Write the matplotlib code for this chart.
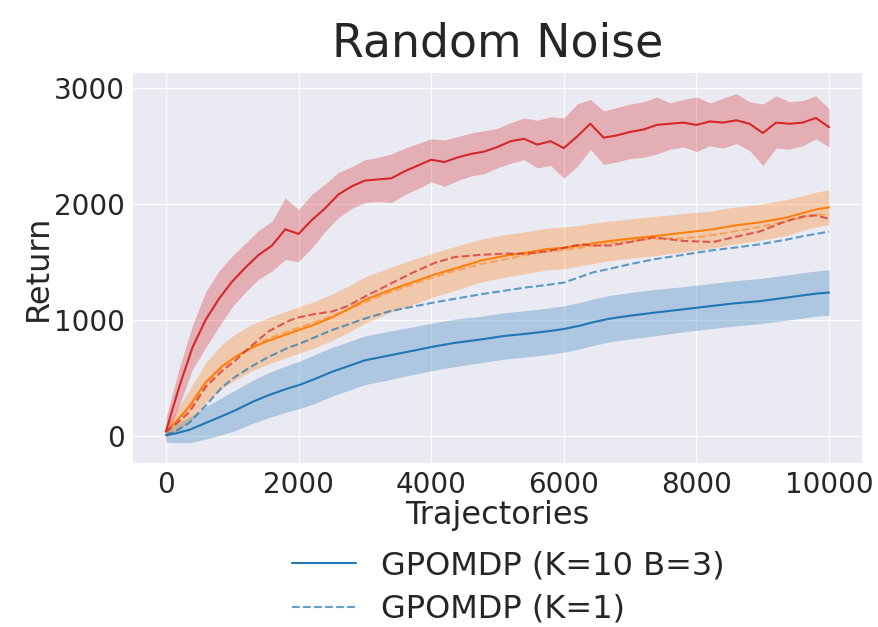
import matplotlib
matplotlib.use('Agg')
import matplotlib.pyplot as plt
import numpy as np

# Trajectories (x grid)
traj = [0, 150, 350, 600, 850, 1050, 1300, 1550, 1850, 2000, 2250, 2500, 2750, 3000,
        3350, 3700, 4050, 4350, 4750, 5100, 5450, 5750, 6000, 6250, 6450, 6700,
        7000, 7350, 7800, 8250, 8550, 8950, 9350, 9600, 9800, 10000]

# GPOMDP (K=10 B=3) - blue solid
blue_mean = [5, 20, 50, 110, 170, 220, 290, 350, 410, 435, 490, 550, 600, 650,
             690, 730, 770, 800, 830, 860, 880, 900, 920, 950, 980, 1010,
             1035, 1060, 1090, 1120, 1140, 1160, 1190, 1210, 1225, 1235]
blue_std = [60, 80, 110, 140, 160, 175, 185, 195, 200, 205, 210, 210, 210, 210,
            210, 205, 205, 205, 200, 200, 200, 200, 200, 200, 200, 200,
            200, 200, 195, 195, 195, 195, 195, 195, 195, 195]

# GPOMDP (K=1) - blue dashed
blue_k1 = [5, 40, 110, 260, 420, 510, 600, 680, 760, 790, 850, 910, 960, 1010,
           1070, 1110, 1150, 1180, 1220, 1250, 1280, 1300, 1320, 1370, 1410, 1440,
           1480, 1520, 1560, 1600, 1620, 1650, 1690, 1720, 1740, 1760]

# orange solid + band
orange_mean = [35, 120, 250, 460, 600, 680, 760, 820, 880, 910, 960, 1020, 1090, 1170,
               1250, 1320, 1390, 1440, 1510, 1550, 1580, 1610, 1620, 1640, 1660, 1680,
               1700, 1720, 1750, 1780, 1810, 1840, 1880, 1920, 1950, 1970]
orange_std = [40, 90, 140, 170, 190, 200, 200, 200, 200, 200, 200, 200, 200, 200,
              195, 195, 190, 190, 185, 185, 180, 180, 180, 175, 175, 170,
              170, 170, 165, 160, 160, 155, 155, 150, 150, 150]

# orange dashed
orange_k1 = [35, 110, 230, 440, 590, 680, 770, 840, 900, 930, 980, 1030, 1090, 1150,
             1230, 1300, 1370, 1420, 1480, 1520, 1560, 1590, 1600, 1620, 1640, 1660,
             1680, 1700, 1700, 1730, 1760, 1800, 1850, 1880, 1910, 1900]

# red dashed
red_k1 = [35, 100, 200, 420, 560, 650, 780, 900, 990, 1020, 1050, 1070, 1120, 1200,
          1300, 1400, 1490, 1540, 1560, 1570, 1570, 1590, 1620, 1650, 1640, 1640,
          1670, 1710, 1680, 1670, 1710, 1760, 1850, 1890, 1900, 1870]

# red solid + band (noisier, denser grid)
traj_red = [0, 200, 400, 600, 800, 1000, 1200, 1400, 1600, 1800, 2000, 2200, 2400,
            2600, 2800, 3000, 3200, 3400, 3600, 3800, 4000, 4200, 4400, 4600, 4800,
            5000, 5200, 5400, 5600, 5800, 6000, 6200, 6400, 6600, 6800, 7000, 7200,
            7400, 7600, 7800, 8000, 8200, 8400, 8600, 8800, 9000, 9200, 9400, 9600,
            9800, 10000]
red_mean = [35, 420, 760, 1000, 1180, 1330, 1450, 1560, 1640, 1780, 1740, 1860, 1960,
            2080, 2150, 2200, 2210, 2220, 2280, 2330, 2380, 2360, 2400, 2430, 2450,
            2490, 2540, 2560, 2510, 2540, 2480, 2580, 2690, 2570, 2590, 2620, 2640,
            2680, 2690, 2700, 2680, 2710, 2700, 2720, 2690, 2610, 2700, 2690, 2700,
            2740, 2660]
red_upper = [150, 580, 950, 1240, 1420, 1550, 1660, 1770, 1850, 2050, 1950, 2080, 2170,
             2270, 2320, 2380, 2400, 2430, 2480, 2520, 2560, 2550, 2580, 2610, 2630,
             2650, 2700, 2740, 2720, 2750, 2740, 2860, 2900, 2800, 2830, 2860, 2880,
             2920, 2870, 2900, 2920, 2870, 2910, 2950, 2880, 2860, 2930, 2880, 2890,
             2930, 2820]
red_lower = [-30, 260, 570, 760, 940, 1110, 1240, 1350, 1420, 1520, 1500, 1620, 1760,
             1880, 1960, 2010, 2020, 2010, 2080, 2130, 2190, 2150, 2200, 2240, 2260,
             2310, 2350, 2380, 2310, 2330, 2220, 2320, 2470, 2340, 2360, 2390, 2400,
             2430, 2470, 2490, 2450, 2500, 2480, 2520, 2460, 2330, 2480, 2470, 2500,
             2560, 2490]

x = np.array(traj)
xr = np.array(traj_red)

plt.style.use('seaborn-v0_8-darkgrid')
plt.rcParams['font.family'] = ['DejaVu Sans']
fig = plt.figure(figsize=(8.79, 6.27), dpi=100)
ax = fig.add_axes([0.151, 0.262, 0.830, 0.622])

blue = '#1f77b4'
orange = '#ff7f0e'
red = '#d62728'

bm, bs = np.array(blue_mean), np.array(blue_std)
om, osd = np.array(orange_mean), np.array(orange_std)

ax.fill_between(x, bm - bs, bm + bs, color=blue, alpha=0.3, lw=0)
ax.fill_between(x, om - osd, om + osd, color=orange, alpha=0.3, lw=0)
ax.fill_between(xr, red_lower, red_upper, color=red, alpha=0.3, lw=0)

ax.plot(x, bm, color=blue, lw=1.5, label='GPOMDP (K=10 B=3)')
ax.plot(x, blue_k1, color=blue, lw=1.5, ls='--', alpha=0.7, label='GPOMDP (K=1)')
ax.plot(x, om, color=orange, lw=1.5)
ax.plot(x, orange_k1, color=orange, lw=1.5, ls='--', alpha=0.5)
ax.plot(xr, red_mean, color=red, lw=1.5)
ax.plot(x, red_k1, color=red, lw=1.5, ls='--', alpha=0.7)

ax.set_xlim(-500, 10500)
ax.set_ylim(-233, 3130)
ax.set_xticks(np.arange(0, 10001, 2000))
ax.set_yticks([0, 1000, 2000, 3000])
ax.tick_params(labelsize=20, pad=6)
ax.set_xlabel('Trajectories', fontsize=23, labelpad=1)
ax.set_ylabel('Return', fontsize=23, labelpad=0)
ax.set_title('Random Noise', fontsize=33, pad=12)

ax.legend(loc='upper center', bbox_to_anchor=(0.515, -0.168), fontsize=23,
          frameon=False, labelspacing=0.38, handlelength=2.0, handletextpad=0.8,
          borderpad=0.2)

fig.savefig('out.png', dpi=100)
